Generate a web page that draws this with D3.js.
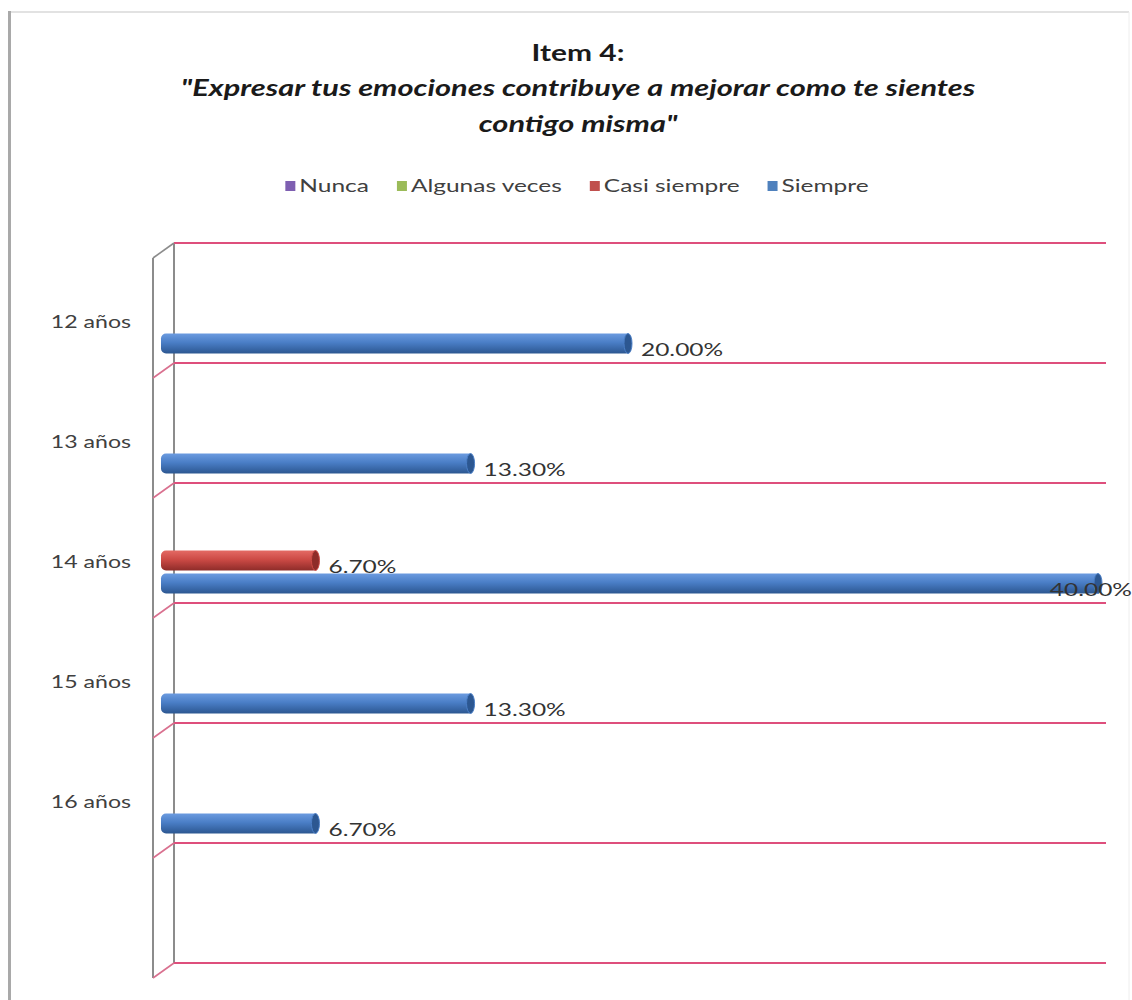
<!DOCTYPE html>
<html>
<head>
<meta charset="utf-8">
<script src="https://cdn.jsdelivr.net/npm/d3@7"></script>
<style>
  html, body { margin: 0; padding: 0; background: #fff; }
  svg { display: block; }
  text { font-family: Lato, "Open Sans", sans-serif; }
</style>
</head>
<body>
<svg id="chart" width="1132" height="1000"></svg>
<script>
// Survey answers per age group (percent of respondents)
const categories = ["12 años", "13 años", "14 años", "15 años", "16 años"];
const series = ["Nunca", "Algunas veces", "Casi siempre", "Siempre"];
const nunca        = [0, 0, 0,   0, 0];
const algunasVeces = [0, 0, 0,   0, 0];
const casiSiempre  = [0, 0, 6.7, 0, 0];
const siempre      = [20.0, 13.3, 40.0, 13.3, 6.7];
const seriesValues = [nunca, algunasVeces, casiSiempre, siempre];
const titleLines = ["Item 4:", "\"Expresar tus emociones contribuye a mejorar como te sientes", "contigo misma\""];

const colors = {
  "Nunca":         { top: "#9b7fc6", mid: "#7d5fb0", bot: "#57407f", legend: "#7e5fb1" },
  "Algunas veces": { top: "#b3d075", mid: "#98bb55", bot: "#6c8a37", legend: "#9bbb59" },
  "Casi siempre":  { top: "#e46a64", mid: "#cc4a45", bot: "#8e2c29", legend: "#c0504d" },
  "Siempre":       { top: "#6b9be0", mid: "#4a7ec6", bot: "#2c5791", legend: "#4f81bd" }
};

const W = 1132, H = 1000;
const SX = 1.36; // horizontal stretch applied to all text (wide rendering of the font)
const svg = d3.select("#chart");

// place a text element at (x, y) with horizontal stretch
function placeText(sel, fx, fy) {
  return sel.attr("x", 0).attr("y", 0)
    .attr("transform", (d, i, n) => `translate(${fx(d, i, n)},${fy(d, i, n)}) scale(${SX},1)`);
}

// outer frame
svg.append("line").attr("x1", 9).attr("y1", 12).attr("x2", 1129).attr("y2", 12)
  .attr("stroke", "#d8d8d8").attr("stroke-width", 1.5);
svg.append("line").attr("x1", 1129).attr("y1", 12).attr("x2", 1129).attr("y2", H)
  .attr("stroke", "#eeeeee").attr("stroke-width", 1);
svg.append("line").attr("x1", 9.5).attr("y1", 11).attr("x2", 9.5).attr("y2", H)
  .attr("stroke", "#a9a9a9").attr("stroke-width", 3);

// title
const title = svg.append("g").attr("text-anchor", "middle").attr("fill", "#1a1a1a");
const titleY = [61, 96, 132];
title.selectAll("text").data(titleLines).join("text")
  .attr("font-size", (d, i) => i === 0 ? 22 : 22.6).attr("font-weight", "bold")
  .attr("font-style", (d, i) => i === 0 ? "normal" : "italic")
  .text(d => d)
  .call(placeText, () => 578, (d, i) => titleY[i]);

// legend
const legend = svg.append("g");
let lx = 0;
series.forEach(s => {
  const g = legend.append("g");
  g.append("rect").attr("x", 0).attr("y", -11).attr("width", 10).attr("height", 10)
    .attr("fill", colors[s].legend);
  const t = g.append("text").attr("font-size", 18).attr("fill", "#404040").text(s)
    .call(placeText, () => 14, () => 0);
  const w = 14 + t.node().getComputedTextLength() * SX;
  g.attr("transform", `translate(${lx},0)`);
  lx += w + 28;
});
const legendW = lx - 28;
legend.attr("transform", `translate(${577 - legendW / 2},192)`);

// scales
const x = d3.scaleLinear().domain([0, 40]).range([161, 1101]);
const y = d3.scaleBand().domain([...categories, ""]).range([243, 963]).paddingInner(0).paddingOuter(0);
const ys = d3.scaleBand().domain(series).range([20, 112]).padding(0);
const barH = ys.bandwidth() * 0.87;

const depthX = 21, depthY = 15; // 3-D offset of the back wall
const backLeft = x(0) + 13, backRight = 1106;

// walls and gridlines
const grid = svg.append("g");
const gridYs = [...y.domain().map(d => y(d)), y.range()[1]];
grid.append("line").attr("x1", backLeft).attr("x2", backLeft)
  .attr("y1", gridYs[0]).attr("y2", gridYs[gridYs.length - 1])
  .attr("stroke", "#8c8c8c").attr("stroke-width", 2);
grid.append("line").attr("x1", backLeft - depthX).attr("x2", backLeft - depthX)
  .attr("y1", gridYs[0] + depthY).attr("y2", gridYs[gridYs.length - 1] + depthY)
  .attr("stroke", "#8c8c8c").attr("stroke-width", 2);
gridYs.forEach((gy, i) => {
  grid.append("line").attr("x1", backLeft).attr("x2", backRight).attr("y1", gy).attr("y2", gy)
    .attr("stroke", "#de4f7c").attr("stroke-width", 2);
  grid.append("line").attr("x1", backLeft - depthX).attr("y1", gy + depthY)
    .attr("x2", backLeft).attr("y2", gy)
    .attr("stroke", i === 0 ? "#8c8c8c" : "#d9708f").attr("stroke-width", 1.6);
});

// category labels
svg.append("g").selectAll("text").data(categories).join("text")
  .attr("dy", "0.35em")
  .attr("text-anchor", "end").attr("font-size", 17).attr("fill", "#404040")
  .text(d => d)
  .call(placeText, () => 131, d => y(d) + 79);

// gradients for the cylinder-like bars
const defs = svg.append("defs");
series.forEach((s, i) => {
  const g = defs.append("linearGradient").attr("id", "grad" + i)
    .attr("x1", 0).attr("y1", 0).attr("x2", 0).attr("y2", 1);
  g.append("stop").attr("offset", "0%").attr("stop-color", colors[s].top);
  g.append("stop").attr("offset", "45%").attr("stop-color", colors[s].mid);
  g.append("stop").attr("offset", "100%").attr("stop-color", colors[s].bot);
});

// bars
const barData = [];
categories.forEach((c, ci) => {
  series.forEach((s, si) => {
    const v = seriesValues[si][ci];
    if (v > 0) barData.push({ cat: c, s, si, v });
  });
});
const bars = svg.append("g").selectAll("g").data(barData).join("g")
  .attr("transform", d => `translate(0,${y(d.cat) + ys(d.s) + (ys.bandwidth() - barH) / 2})`);
bars.append("rect")
  .attr("x", x(0)).attr("y", 0)
  .attr("width", d => x(d.v) - x(0)).attr("height", barH)
  .attr("rx", 5).attr("ry", 5)
  .attr("fill", (d) => `url(#grad${d.si})`);
bars.append("ellipse")
  .attr("cx", d => x(d.v) - 3).attr("cy", barH / 2)
  .attr("rx", 4).attr("ry", barH / 2)
  .attr("fill", d => colors[d.s].bot).attr("stroke", d => colors[d.s].mid).attr("stroke-width", 1);

// value labels
svg.append("g").selectAll("text").data(barData).join("text")
  .attr("dy", "0.35em")
  .attr("font-size", 18).attr("fill", "#333")
  .text(d => d.v.toFixed(2) + "%")
  .call(placeText,
    (d, i, n) => Math.min(x(d.v) + 10, W - n[i].getComputedTextLength() * SX),
    d => y(d.cat) + ys(d.s) + ys.bandwidth() / 2 + 6);
</script>
</body>
</html>
